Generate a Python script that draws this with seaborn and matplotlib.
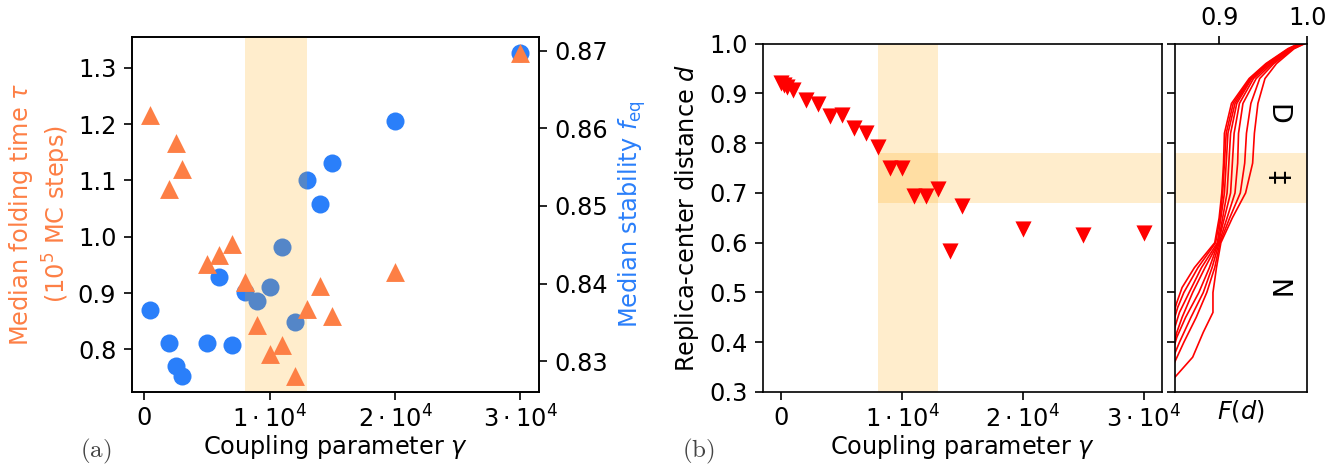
import numpy as np
import pandas as pd
import seaborn as sns
import matplotlib
matplotlib.use("Agg")
import matplotlib.pyplot as plt

# panel (a): median folding time (triangles) and median stability (circles)
gamma_a = [500, 2000, 2500, 3000, 5000, 6000, 7000, 8000, 9000, 10000,
	11000, 12000, 13000, 14000, 15000, 20000, 30000]
tau = [1.217, 1.084, 1.166, 1.120, 0.952, 0.967, 0.987, 0.920, 0.843, 0.791,
	0.807, 0.753, 0.871, 0.912, 0.860, 0.937, 1.326]
f_eq = [0.8366, 0.8324, 0.8294, 0.8281, 0.8324, 0.8408, 0.8321, 0.8389, 0.8377,
	0.8396, 0.8447, 0.8350, 0.8534, 0.8502, 0.8556, 0.8610, 0.8697]

# panel (b): replica-center distance
gamma_b = [0, 250, 500, 1000, 2000, 3000, 4000, 5000, 6000, 7000, 8000, 9000,
	10000, 11000, 12000, 13000, 14000, 15000, 20000, 25000, 30000]
dist = [0.921, 0.918, 0.912, 0.907, 0.887, 0.879, 0.855, 0.857, 0.830, 0.820,
	0.793, 0.751, 0.750, 0.693, 0.693, 0.707, 0.584, 0.674, 0.627, 0.616, 0.619]

# side panel: F(d) curves (d values and F values read per curve)
curve_d = [
	[1.0, 0.99, 0.96, 0.93, 0.88, 0.82, 0.76, 0.70, 0.65, 0.60, 0.55, 0.50, 0.46, 0.42, 0.37, 0.33, 0.32],
	[1.0, 0.99, 0.96, 0.93, 0.88, 0.82, 0.76, 0.70, 0.65, 0.60, 0.55, 0.50, 0.45, 0.40, 0.35],
	[1.0, 0.99, 0.96, 0.93, 0.88, 0.82, 0.76, 0.70, 0.65, 0.60, 0.55, 0.50, 0.45, 0.40, 0.37],
	[1.0, 0.99, 0.96, 0.93, 0.88, 0.82, 0.76, 0.70, 0.65, 0.60, 0.55, 0.50, 0.45, 0.41, 0.38],
	[1.0, 0.99, 0.96, 0.93, 0.88, 0.82, 0.76, 0.70, 0.65, 0.60, 0.55, 0.50, 0.45, 0.42, 0.39],
	[1.0, 0.99, 0.96, 0.93, 0.88, 0.82, 0.76, 0.70, 0.65, 0.60, 0.55, 0.50, 0.46, 0.42],
	[1.0, 0.99, 0.96, 0.93, 0.88, 0.82, 0.76, 0.70, 0.65, 0.60, 0.55, 0.50, 0.47, 0.44],
	[1.0, 0.99, 0.96, 0.93, 0.88, 0.82, 0.76, 0.70, 0.65, 0.60, 0.55, 0.51, 0.48, 0.45],
]
curve_F = [
	[0.997, 0.985, 0.965, 0.952, 0.944, 0.940, 0.938, 0.930, 0.915, 0.902, 0.897, 0.893, 0.893, 0.882, 0.870, 0.850, 0.845],
	[0.996, 0.984, 0.962, 0.946, 0.936, 0.931, 0.929, 0.924, 0.912, 0.901, 0.895, 0.886, 0.874, 0.860, 0.847],
	[0.995, 0.983, 0.960, 0.942, 0.927, 0.922, 0.921, 0.918, 0.909, 0.900, 0.892, 0.882, 0.868, 0.855, 0.848],
	[0.994, 0.982, 0.958, 0.939, 0.923, 0.917, 0.915, 0.913, 0.906, 0.899, 0.889, 0.877, 0.862, 0.852, 0.847],
	[0.993, 0.981, 0.956, 0.937, 0.920, 0.913, 0.911, 0.909, 0.904, 0.899, 0.884, 0.870, 0.858, 0.852, 0.848],
	[0.992, 0.980, 0.955, 0.936, 0.918, 0.910, 0.908, 0.906, 0.902, 0.898, 0.880, 0.866, 0.855, 0.848],
	[0.991, 0.979, 0.954, 0.935, 0.916, 0.908, 0.906, 0.904, 0.901, 0.896, 0.876, 0.860, 0.853, 0.848],
	[0.990, 0.978, 0.953, 0.934, 0.914, 0.906, 0.905, 0.903, 0.900, 0.895, 0.872, 0.858, 0.852, 0.847],
]

orange = "#fd7f45"
blue = "#2a7ffa"
band = dict(color = "orange", alpha = 0.2, lw = 0)

plt.rcParams["font.size"] = 11.5
plt.rcParams["xtick.major.size"] = 4
plt.rcParams["ytick.major.size"] = 4
plt.rcParams["xtick.major.pad"] = 2.5

fig = plt.figure(figsize = (1340 / 150, 467 / 150), dpi = 150)
ax_a = fig.add_axes([0.0985, 0.1606, 0.3037, 0.7602])
ax_a2 = ax_a.twinx()
ax_a.set_zorder(ax_a2.get_zorder() + 1)
ax_a.patch.set_visible(False)

df_a = pd.DataFrame({"gamma": gamma_a, "tau": tau, "f_eq": f_eq})
sns.scatterplot(data = df_a, x = "gamma", y = "f_eq", ax = ax_a2, marker = "o",
	s = 75, color = blue, linewidth = 0)
ax_a.axvspan(8000, 13000, **band)
sns.scatterplot(data = df_a, x = "gamma", y = "tau", ax = ax_a, marker = "^",
	s = 82, color = orange, linewidth = 0)

ax_a.set_xticks([0, 10000, 20000, 30000])
ax_a.set_xticklabels(["0", r"$1\cdot10^4$", r"$2\cdot10^4$", r"$3\cdot10^4$"])
ax_a.set_xlabel(r"Coupling parameter $\gamma$", labelpad = 0)
ax_a.set_ylabel("Median folding time $\\tau$\n($10^5$ MC steps)", color = orange,
	labelpad = 2.5)
ax_a2.set_ylabel(r"Median stability $f_{\rm eq}$", color = blue)
ax_a2.set_xlabel("")

# panel (b)
ax_b = fig.add_axes([0.5696, 0.1606, 0.2973, 0.7458])
ax_s = fig.add_axes([0.8769, 0.1606, 0.0987, 0.7458], sharey = ax_b)

df_b = pd.DataFrame({"gamma": gamma_b, "d": dist})
sns.scatterplot(data = df_b, x = "gamma", y = "d", ax = ax_b, marker = "v",
	s = 60, color = "red", linewidth = 0, zorder = 3)
xl = ax_b.get_xlim()
ax_b.axvspan(8000, 13000, zorder = 0.5, **band)
ax_b.fill_between([8000, xl[1]], 0.68, 0.78, zorder = 0.5, **band)
ax_b.set_xlim(xl)
ax_b.set_ylim(0.3, 1.0)
ax_b.set_xticks([0, 10000, 20000, 30000])
ax_b.set_xticklabels(["0", r"$1\cdot10^4$", r"$2\cdot10^4$", r"$3\cdot10^4$"])
ax_b.set_xlabel(r"Coupling parameter $\gamma$", labelpad = 0)
ax_b.set_ylabel(r"Replica-center distance $d$")

# side panel with F(d) curves
ax_s.axhspan(0.68, 0.78, **band)
for dd, ff in zip(curve_d, curve_F):
	sns.lineplot(x = ff, y = dd, ax = ax_s, sort = False, estimator = None,
		color = "red", lw = 0.8)
ax_s.set_xlim(0.85, 1.0)
ax_s.xaxis.tick_top()
ax_s.set_xticks([0.9, 1.0])
ax_s.set_xticklabels(["0.9", "1.0"])
ax_s.tick_params(axis = "y", labelleft = False)
ax_s.set_xlabel(r"$F(d)$", labelpad = 3)
ax_s.set_ylabel("")
for label, yv in [("D", 0.857), ("\u2021", 0.733), ("N", 0.506)]:
	ax_s.text(0.965, yv, label, rotation = -90, ha = "center", va = "center",
		fontsize = 13)

fig.text(0.0715, 0.033, r"$\mathrm{(a)}$", math_fontfamily = "cm", color = "#444444",
	ha = "center", va = "center", fontsize = 12)
fig.text(0.5215, 0.033, r"$\mathrm{(b)}$", math_fontfamily = "cm", color = "#444444",
	ha = "center", va = "center", fontsize = 12)

fig.savefig("out.png", dpi = 150)
